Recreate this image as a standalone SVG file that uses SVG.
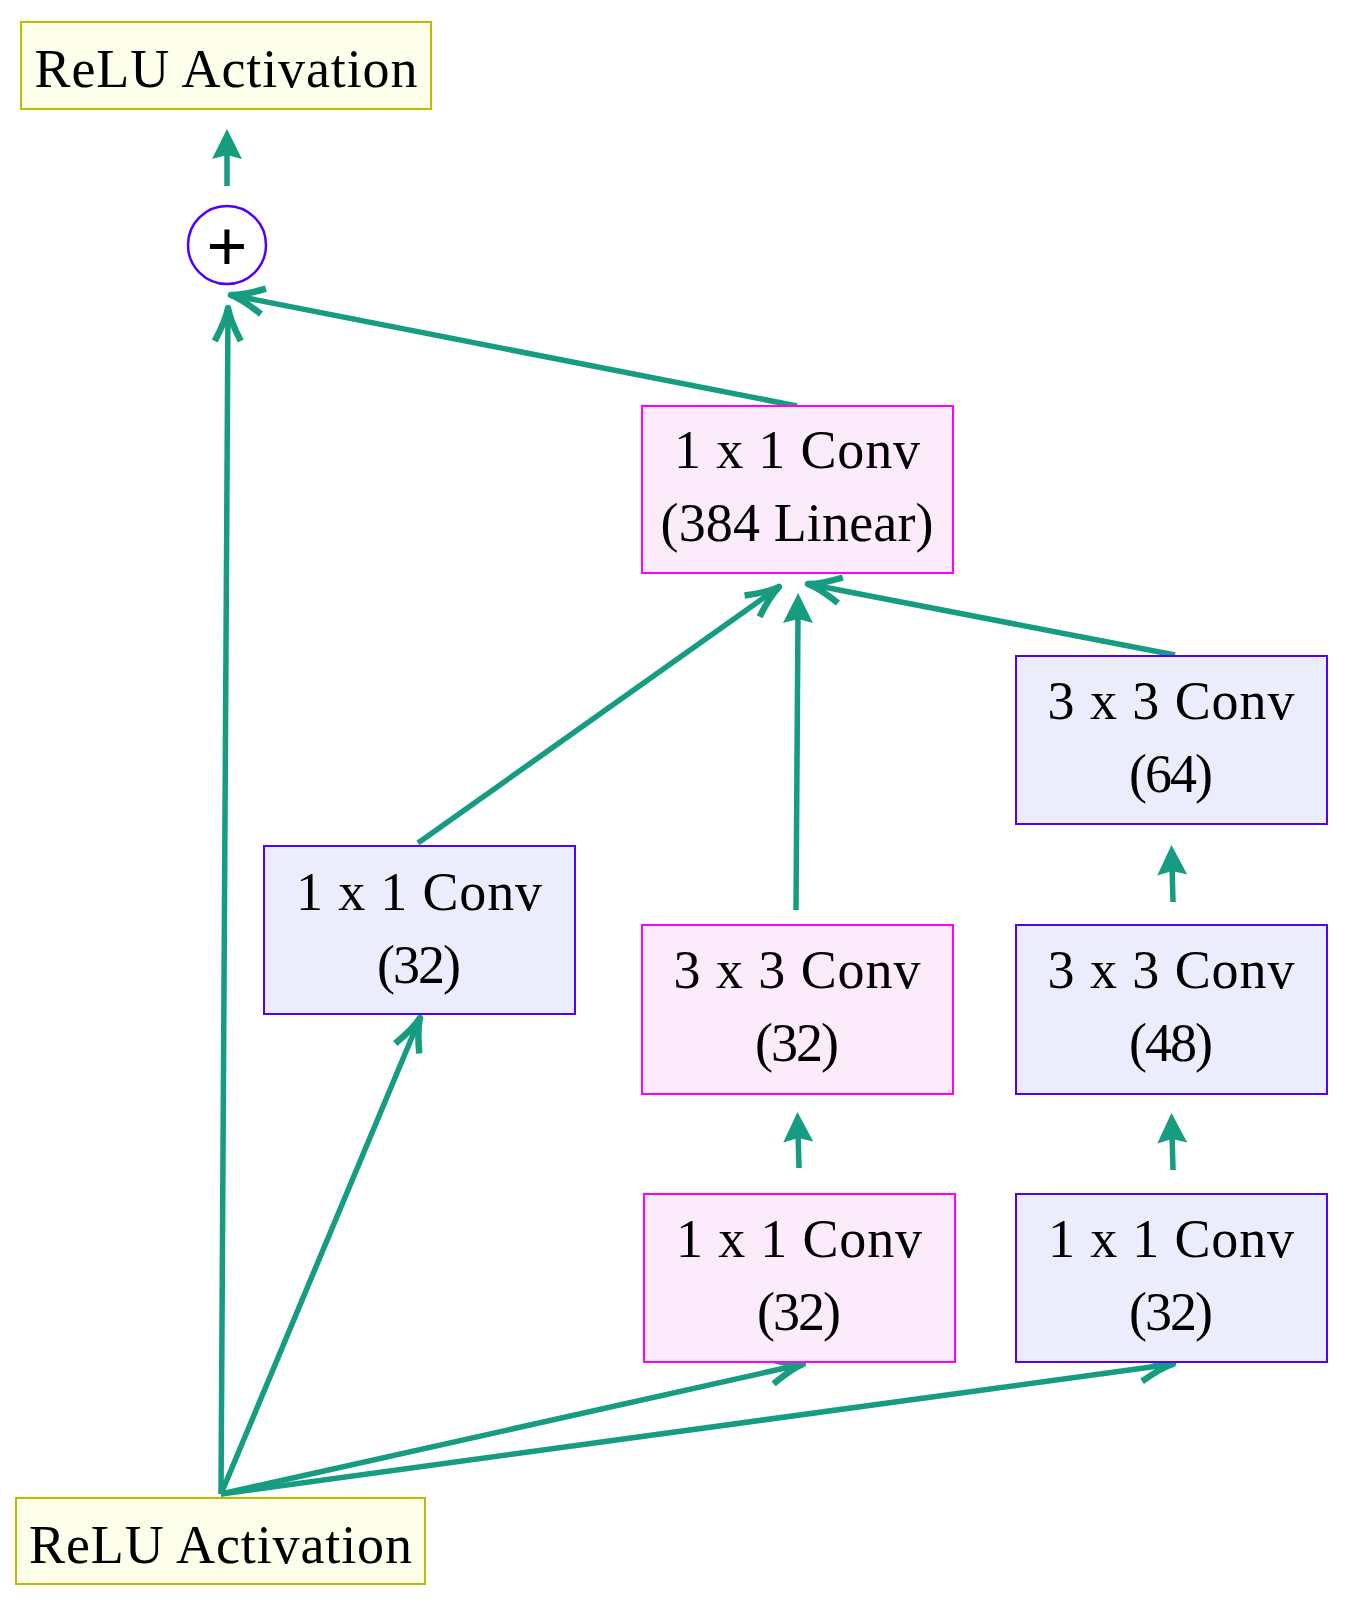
<svg xmlns="http://www.w3.org/2000/svg" width="1345" height="1609" viewBox="0 0 1345 1609">
<style>
.relu{fill:#fdffeb;stroke:#bdbd00;stroke-width:2}
.pink{fill:#fcebfa;stroke:#ff00ff;stroke-width:2}
.blue{fill:#ebedfc;stroke:#5000ff;stroke-width:2}
.t{font-family:"Liberation Serif","Times New Roman",serif;font-size:54px;fill:#000;text-anchor:middle}
.c{fill:none;stroke:#169c80;stroke-width:5.5}
</style>
<defs>
<marker id="stealth" markerUnits="userSpaceOnUse" markerWidth="80" markerHeight="80" refX="0" refY="0" viewBox="-40 -40 80 80" orient="auto" overflow="visible">
<path d="M20,0 L-10,-15 L-6,0 L-10,15 Z" fill="#169c80"/>
</marker>
<marker id="barb" markerUnits="userSpaceOnUse" markerWidth="80" markerHeight="80" refX="0" refY="0" viewBox="-40 -40 80 80" orient="auto" overflow="visible">
<path d="M-33,-13 Q-12,-2 0,0 Q-12,2 -33,13" fill="none" stroke="#169c80" stroke-width="6.5" stroke-linejoin="round"/>
</marker>
</defs>
<g id="connectors">
<line class="c" x1="221" y1="1494" x2="228" y2="308" marker-end="url(#barb)"/>
<line class="c" x1="221" y1="1494" x2="420" y2="1018" marker-end="url(#barb)"/>
<line class="c" x1="221" y1="1494" x2="803" y2="1364" marker-end="url(#barb)"/>
<line class="c" x1="221" y1="1494" x2="1173" y2="1364" marker-end="url(#barb)"/>
<line class="c" x1="799" y1="1168" x2="798" y2="1132" marker-end="url(#stealth)"/>
<line class="c" x1="1173" y1="1170" x2="1172" y2="1133" marker-end="url(#stealth)"/>
<line class="c" x1="1173" y1="902" x2="1172" y2="865" marker-end="url(#stealth)"/>
<line class="c" x1="796" y1="910" x2="798" y2="613" marker-end="url(#stealth)"/>
<line class="c" x1="418" y1="843" x2="779" y2="587" marker-end="url(#barb)"/>
<line class="c" x1="1175" y1="655" x2="808" y2="584" marker-end="url(#barb)"/>
<line class="c" x1="797" y1="406" x2="231" y2="295" marker-end="url(#barb)"/>
<line class="c" x1="227" y1="186" x2="227" y2="149" marker-end="url(#stealth)"/>
</g>
<g id="relu-top">
<rect class="relu" x="21" y="22" width="410" height="87"/>
<text class="t" x="226" y="87" textLength="383" lengthAdjust="spacing">ReLU Activation</text>
</g>
<g id="plus">
<circle cx="227" cy="245" r="39" fill="#fff" stroke="#5000ff" stroke-width="2.5"/>
<text x="227" y="270" font-family="Liberation Sans, Arial, sans-serif" font-size="70" text-anchor="middle" fill="#000">+</text>
</g>
<g id="conv-linear">
<rect class="pink" x="642" y="406" width="311" height="167"/>
<text class="t" x="797" y="468" textLength="246" lengthAdjust="spacing">1 x 1 Conv</text>
<text class="t" x="797" y="541" textLength="273" lengthAdjust="spacing">(384 Linear)</text>
</g>
<g id="conv-1x1-a">
<rect class="blue" x="264" y="846" width="311" height="168"/>
<text class="t" x="419" y="910" textLength="246" lengthAdjust="spacing">1 x 1 Conv</text>
<text class="t" x="419" y="983" textLength="84" lengthAdjust="spacing">(32)</text>
</g>
<g id="conv-3x3-32">
<rect class="pink" x="642" y="925" width="311" height="169"/>
<text class="t" x="797" y="988" textLength="247" lengthAdjust="spacing">3 x 3 Conv</text>
<text class="t" x="797" y="1061" textLength="84" lengthAdjust="spacing">(32)</text>
</g>
<g id="conv-1x1-b">
<rect class="pink" x="644" y="1194" width="311" height="168"/>
<text class="t" x="799" y="1257" textLength="246" lengthAdjust="spacing">1 x 1 Conv</text>
<text class="t" x="799" y="1330" textLength="84" lengthAdjust="spacing">(32)</text>
</g>
<g id="conv-3x3-64">
<rect class="blue" x="1016" y="656" width="311" height="168"/>
<text class="t" x="1171" y="719" textLength="247" lengthAdjust="spacing">3 x 3 Conv</text>
<text class="t" x="1171" y="792" textLength="84" lengthAdjust="spacing">(64)</text>
</g>
<g id="conv-3x3-48">
<rect class="blue" x="1016" y="925" width="311" height="169"/>
<text class="t" x="1171" y="988" textLength="247" lengthAdjust="spacing">3 x 3 Conv</text>
<text class="t" x="1171" y="1061" textLength="84" lengthAdjust="spacing">(48)</text>
</g>
<g id="conv-1x1-c">
<rect class="blue" x="1016" y="1194" width="311" height="168"/>
<text class="t" x="1171" y="1257" textLength="246" lengthAdjust="spacing">1 x 1 Conv</text>
<text class="t" x="1171" y="1330" textLength="84" lengthAdjust="spacing">(32)</text>
</g>
<g id="relu-bottom">
<rect class="relu" x="16" y="1498" width="409" height="86"/>
<text class="t" x="220.5" y="1563" textLength="383" lengthAdjust="spacing">ReLU Activation</text>
</g>
</svg>
